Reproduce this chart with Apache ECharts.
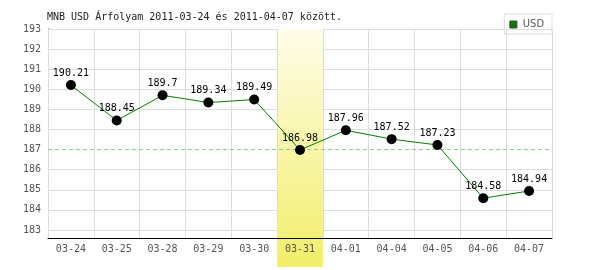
<!DOCTYPE html>
<html>
<head>
<meta charset="utf-8">
<script src="https://cdn.jsdelivr.net/npm/echarts@6/dist/echarts.min.js"></script>
<style>html,body{margin:0;padding:0;background:#fff}#c{width:600px;height:270px}</style>
</head>
<body>
<div id="c"></div>
<script>
const categories = ['03-24','03-25','03-28','03-29','03-30','03-31','04-01','04-04','04-05','04-06','04-07'];
const usdValues = [190.21, 188.45, 189.7, 189.34, 189.49, 186.98, 187.96, 187.52, 187.23, 184.58, 184.94];
const yTicks = [183,184,185,186,187,188,189,190,191,192,193];
const refLineValue = 187;
const highlightCategory = '03-31';
const titleText = 'MNB USD Árfolyam 2011-03-24 és 2011-04-07 között.';
const seriesName = 'USD';

const mono = 'DejaVu Sans Mono';
const bandData = categories.map(c => c === highlightCategory ? 1 : null);
const gridTicks = yTicks.filter(v => v !== refLineValue);

const chart = echarts.init(document.getElementById('c'), null, {renderer: 'canvas'});
chart.setOption({
  animation: false,
  backgroundColor: '#fff',
  title: {
    text: titleText, left: 47, top: 12, padding: 0,
    textStyle: {fontFamily: mono, fontSize: 10, fontWeight: 'normal', color: '#222'}
  },
  legend: {
    right: 48, top: 14, padding: [5, 8, 4, 5],
    borderColor: '#ddd', borderWidth: 1,
    itemWidth: 7, itemHeight: 7, itemGap: 2,
    data: [{name: seriesName, icon: 'rect', itemStyle: {color: '#008000', borderColor: '#444', borderWidth: 1}}],
    textStyle: {fontFamily: 'Liberation Sans Narrow, DejaVu Sans Condensed, sans-serif', fontSize: 11, color: '#555', padding: [0,0,0,1]}
  },
  grid: [
    {left: 48, right: 48, top: 29, bottom: 32},
    {left: 48, right: 48, top: 29, bottom: 3}
  ],
  xAxis: [
    {type: 'category', gridIndex: 0, data: categories, boundaryGap: true, z: 3,
     axisLine: {lineStyle: {color: '#000', width: 1}},
     axisTick: {show: false},
     axisLabel: {fontFamily: mono, fontSize: 10, color: '#555', margin: 6},
     splitLine: {show: true, lineStyle: {color: '#ddd', width: 1}}},
    {type: 'category', gridIndex: 1, data: categories, boundaryGap: true, show: false}
  ],
  yAxis: [
    {type: 'value', gridIndex: 0, min: 182.6, max: 193, z: 0,
     axisLine: {show: true, lineStyle: {color: '#000', width: 1}},
     axisTick: {show: false, customValues: gridTicks},
     axisLabel: {customValues: yTicks, fontFamily: mono, fontSize: 10, color: '#555', margin: 7},
     splitLine: {show: true, lineStyle: {color: '#ddd', width: 1}}},
    {type: 'value', gridIndex: 1, min: 0, max: 1, show: false}
  ],
  series: [
    {type: 'bar', name: 'band', xAxisIndex: 1, yAxisIndex: 1, data: bandData, barWidth: '100%', z: 1,
     silent: true,
     itemStyle: {color: new echarts.graphic.LinearGradient(0, 0, 0, 1, [
       {offset: 0, color: '#fffdea'}, {offset: 1, color: '#f2ee68'}])}},
    {type: 'line', name: 'ref', data: [], z: 0.5, silent: true,
     color: '#88cc88',
     markLine: {silent: true, symbol: 'none', label: {show: false},
       lineStyle: {color: '#88cc88', type: [4, 3], width: 1, opacity: 1},
       emphasis: {disabled: true},
       data: [{yAxis: refLineValue, lineStyle: {color: '#88cc88'}}]}},
    {type: 'line', name: seriesName, data: usdValues, z: 5,
     symbol: 'circle', symbolSize: 10,
     itemStyle: {color: '#000'},
     lineStyle: {color: '#008000', width: 1},
     label: {show: true, position: 'top', distance: 2, fontFamily: mono, fontSize: 10, color: '#000'}}
  ]
});
</script>
</body>
</html>
